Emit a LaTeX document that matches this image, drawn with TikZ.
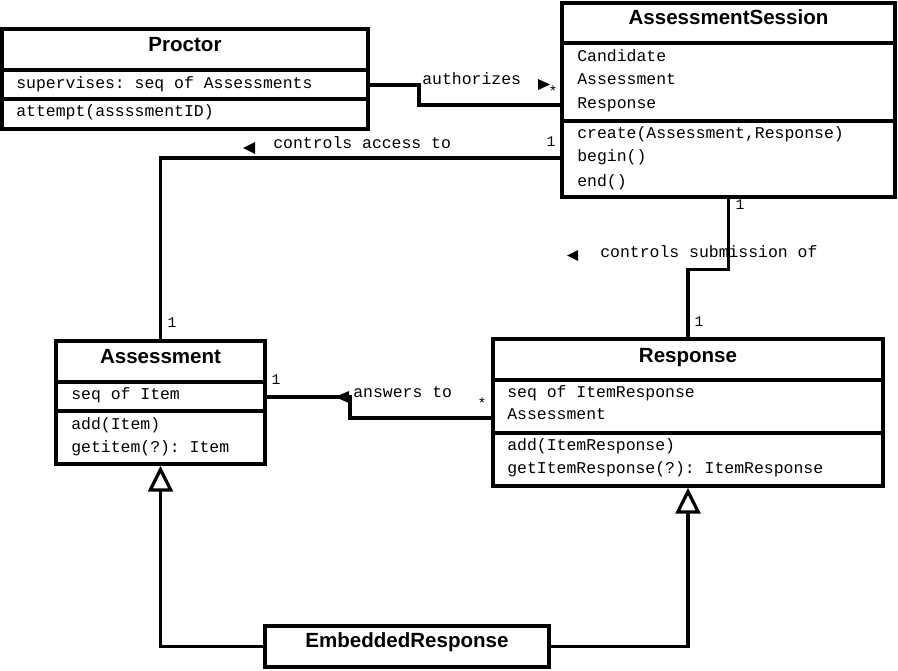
\documentclass[tikz,border=0pt]{standalone}
\usepackage{fontspec}
\setsansfont{Liberation Sans}
\setmonofont{Liberation Mono}
\usetikzlibrary{arrows.meta}
\usetikzlibrary{fit}
\tikzset{classbox/.style = {draw, line width = 2.4pt, inner sep = 0}}
\tikzset{divider/.style = {line width = 2.4pt}}
\tikzset{classname/.style = {font = \sffamily\bfseries\fontsize{14.6}{17}\selectfont, anchor = base, inner sep = 0}}
\tikzset{member/.style = {font = \ttfamily\fontsize{11.7}{14}\selectfont, anchor = base west, inner sep = 0}}
\tikzset{mult/.style = {font = \ttfamily\fontsize{10.5}{12}\selectfont, inner sep = 0}}
\tikzset{assoc/.style = {line width = 2.3pt}}
\tikzset{inherit/.style = {line width = 2.3pt, -{Triangle[open, length = 0.65cm, width = 0.62cm]}}}

\begin{document}
\begin{tikzpicture}[x = 0.025cm, y = -0.025cm]
    \useasboundingbox (0, 0) rectangle (898, 670);

    \node [classbox, fit = {(2, 29) (368, 129)}] (proctor) {};
    \draw [divider] (proctor.west |- 0, 70) -- (proctor.east |- 0, 70);
    \draw [divider] (proctor.west |- 0, 99) -- (proctor.east |- 0, 99);
    \node [classname] (proctor-name) at (185, 52) {Proctor};
    \node [member] (proctor-a1) at (16, 88) {supervises: seq of Assessments};
    \node [member] (proctor-m1) at (16, 116) {attempt(assssmentID)};

    \node [classbox, fit = {(562, 3) (895, 197)}] (session) {};
    \draw [divider] (session.west |- 0, 43) -- (session.east |- 0, 43);
    \draw [divider] (session.west |- 0, 121) -- (session.east |- 0, 121);
    \node [classname] (session-name) at (728.5, 25) {AssessmentSession};
    \node [member] (session-a1) at (577, 61) {Candidate};
    \node [member] (session-a2) at (577, 85) {Assessment};
    \node [member] (session-a3) at (577, 108) {Response};
    \node [member] (session-m1) at (577, 138) {create(Assessment,Response)};
    \node [member] (session-m2) at (577, 161) {begin()};
    \node [member] (session-m3) at (577, 186) {end()};

    \node [classbox, fit = {(56, 341) (265, 464)}] (assessment) {};
    \draw [divider] (assessment.west |- 0, 382) -- (assessment.east |- 0, 382);
    \draw [divider] (assessment.west |- 0, 411) -- (assessment.east |- 0, 411);
    \node [classname] (assessment-name) at (160.5, 363) {Assessment};
    \node [member] (assessment-a1) at (71, 399) {seq of Item};
    \node [member] (assessment-m1) at (71, 429) {add(Item)};
    \node [member] (assessment-m2) at (71, 452) {getitem(?): Item};

    \node [classbox, fit = {(493, 339) (883, 486)}] (response) {};
    \draw [divider] (response.west |- 0, 380) -- (response.east |- 0, 380);
    \draw [divider] (response.west |- 0, 433) -- (response.east |- 0, 433);
    \node [classname] (response-name) at (688, 362) {Response};
    \node [member] (response-a1) at (507, 397) {seq of ItemResponse};
    \node [member] (response-a2) at (507, 419) {Assessment};
    \node [member] (response-m1) at (507, 450) {add(ItemResponse)};
    \node [member] (response-m2) at (507, 473) {getItemResponse(?): ItemResponse};

    \node [classbox, fit = {(265, 626) (549, 667)}] (embedded) {};
    \node [classname] (embedded-name) at (407, 647) {EmbeddedResponse};

    \draw [assoc] (proctor.east |- 0, 85) -| (419, 105) -- (session.west |- 0, 105);
    \node [member] (authorizes) at (422, 85) {authorizes};
    \fill (538, 79) -- (550, 84.5) -- (538, 90) -- cycle;
    \node [mult] (authorizes-m) at (553, 91) {*};

    \draw [assoc] (session.west |- 0, 158) -| (assessment.north);
    \node [member] (access) at (273, 148) {controls access to};
    \fill (243, 148) -- (255, 142) -- (255, 154) -- cycle;
    \node [mult] (access-m1) at (551, 142) {1};
    \node [mult] (access-m2) at (172, 323) {1};

    \draw [assoc] (session.south) -- ++(0, 71) -| (response.north);
    \node [member] (submission) at (600, 257) {controls submission of};
    \fill (567, 255.5) -- (578, 250) -- (578, 261) -- cycle;
    \node [mult] (submission-m1) at (740, 205) {1};
    \node [mult] (submission-m2) at (699, 322) {1};

    \draw [assoc] (assessment.east |- 0, 397) -| (350, 418) -- (response.west |- 0, 418);
    \node [member] (answers) at (353, 397) {answers to};
    \fill (335, 397) -- (349, 391) -- (349, 403) -- cycle;
    \node [mult] (answers-m1) at (276, 380) {1};
    \node [mult] (answers-m2) at (482, 403) {*};

    \draw [inherit] (embedded.west) -| (assessment.south);
    \draw [inherit] (embedded.east) -| (response.south);
\end{tikzpicture}
\end{document}
